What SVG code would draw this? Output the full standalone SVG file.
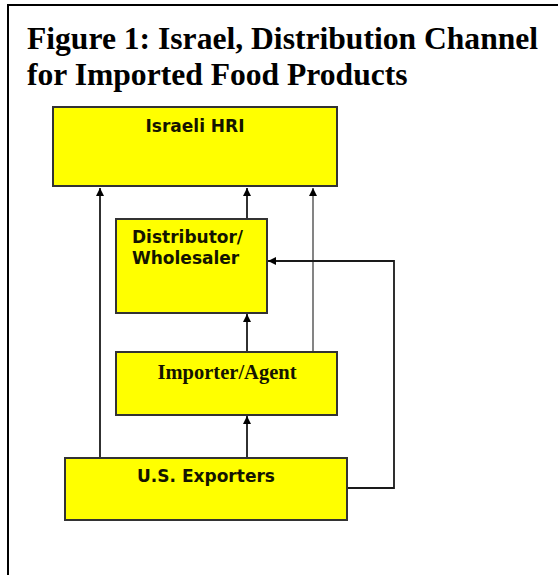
<svg xmlns="http://www.w3.org/2000/svg" width="558" height="575" viewBox="0 0 558 575">
<defs>
<style>
.box{fill:#ffff00;stroke:#333333;stroke-width:2}
.lbl{font-family:"DejaVu Sans",Verdana,sans-serif;font-weight:bold;font-size:17px;fill:#141400}
.lblS{font-family:"Liberation Serif","Times New Roman",serif;font-weight:bold;font-size:20.5px;fill:#141400}
.title{font-family:"Liberation Serif","Times New Roman",serif;font-weight:bold;font-size:31.6px;fill:#000}
.ln{fill:none;stroke:#1a1a1a;stroke-width:1.8}
.lnG{fill:none;stroke:#777777;stroke-width:1.8}
</style>
<marker id="ah" markerWidth="8" markerHeight="8" refX="8" refY="4" orient="auto" markerUnits="userSpaceOnUse">
<path d="M0,0 L8,4 L0,8 Z" fill="#000"/>
</marker>
</defs>
<rect x="8" y="5" width="560" height="580" fill="#fff" stroke="#000" stroke-width="2"/>
<g id="title">
<text class="title" x="27" y="49">Figure 1: Israel, Distribution Channel</text>
<text class="title" x="27" y="85">for Imported Food Products</text>
</g>
<g id="connectors">
<path class="ln" d="M100,458 V188" marker-end="url(#ah)"/>
<path class="ln" d="M247,219 V188" marker-end="url(#ah)"/>
<path class="lnG" d="M313,352 V188" marker-end="url(#ah)"/>
<path class="ln" d="M247,352 V314" marker-end="url(#ah)"/>
<path class="ln" d="M247,458 V416" marker-end="url(#ah)"/>
<path class="ln" d="M347,488 H394 V261 H268" marker-end="url(#ah)"/>
</g>
<g id="hri">
<rect class="box" x="53" y="107" width="284" height="79"/>
<text class="lbl" x="195" y="132" text-anchor="middle">Israeli HRI</text>
</g>
<g id="distributor">
<rect class="box" x="116" y="219" width="151" height="94"/>
<text class="lbl" x="132" y="243">Distributor/</text>
<text class="lbl" x="132" y="264">Wholesaler</text>
</g>
<g id="importer">
<rect class="box" x="116" y="352" width="221" height="63"/>
<text class="lblS" x="227" y="379" text-anchor="middle">Importer/Agent</text>
</g>
<g id="exporters">
<rect class="box" x="65" y="458" width="282" height="62"/>
<text class="lbl" x="206" y="482" text-anchor="middle">U.S. Exporters</text>
</g>
</svg>
